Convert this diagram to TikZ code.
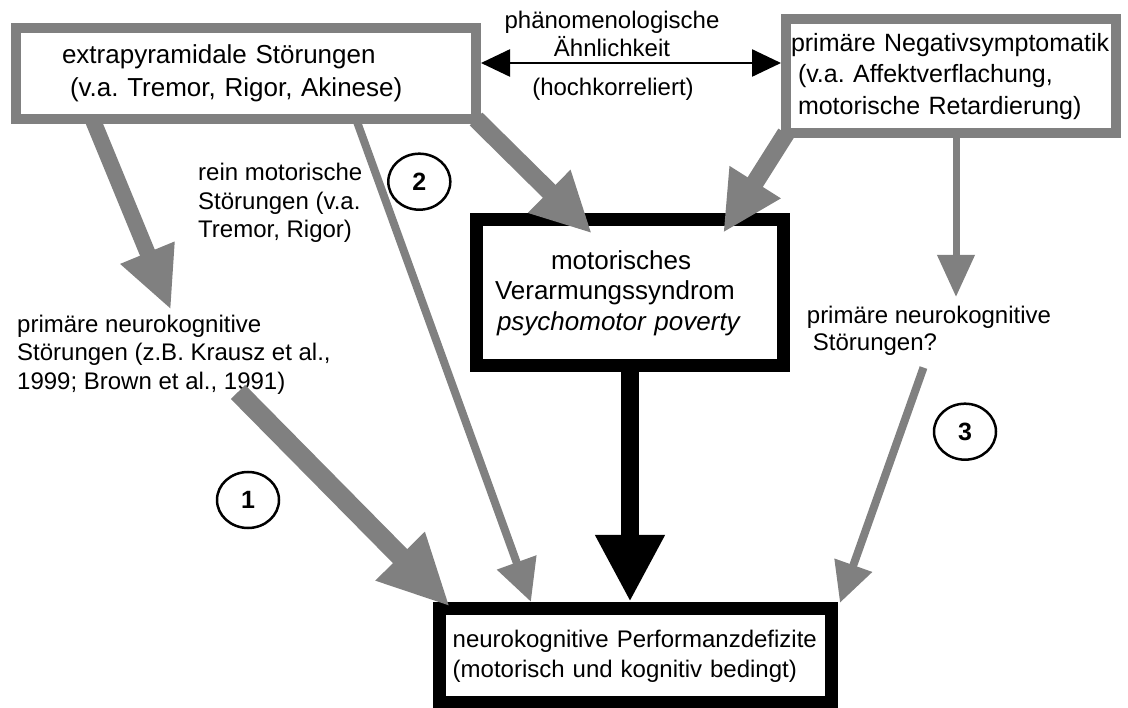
\documentclass[tikz,border=0pt]{standalone}
\usepackage{fontspec}
\setmainfont{Liberation Sans}
\usetikzlibrary{arrows.meta,shapes.geometric,calc}
\definecolor{boxgray}{RGB}{128,128,128}
\frenchspacing
\tikzset{
  graybox/.style={draw=boxgray, line width=10pt, fill=white, inner sep=0pt, align=left},
  blackbox/.style={draw=black, line width=13pt, fill=white, inner sep=0pt, align=left},
  lbl/.style={inner sep=0pt, align=left, font=\fontsize{24}{28.7}\selectfont},
  numcirc/.style={draw, ellipse, line width=2.5pt, inner sep=0pt, minimum width=62pt, minimum height=56pt, font=\fontsize{25}{25}\selectfont\bfseries},
  fatarrow/.style={draw=boxgray, line width=18pt, -{Triangle[length=60pt,width=56pt]}},
  thinarrow/.style={draw=boxgray, line width=8pt, -{Triangle[length=42pt,width=40pt]}},
}
\begin{document}
\begin{tikzpicture}[x=1pt,y=-1pt]
        \useasboundingbox (0,0) rectangle (1128,708);

        % Boxes
        \node[graybox, minimum width=460pt, minimum height=91pt, text width=368pt, font=\fontsize{26}{32.7}\selectfont] (extra) at (246,73.5) {extrapyramidale Störungen\\\hspace*{8pt}(v.a. Tremor, Rigor, Akinese)};
        \node[graybox, minimum width=330pt, minimum height=114pt, text width=320pt, font=\fontsize{25}{31.5}\selectfont] (neg) at (951,76.4) {primäre Negativsymptomatik\\\hspace*{7pt}(v.a. Affektverflachung,\\\hspace*{7pt}motorische Retardierung)};
        \node[blackbox, minimum width=306.7pt, minimum height=146.3pt, text width=270pt, font=\fontsize{26}{30.5}\selectfont] (pp) at (630,292.8) {\hspace*{56pt}motorisches\\Verarmungssyndrom\\\hspace*{2pt}\textit{psychomotor poverty}};
        \node[blackbox, line width=13.5pt, minimum width=392pt, minimum height=94.3pt, text width=366pt, font=\fontsize{24}{30}\selectfont] (perf) at (635.7,655.8) {neurokognitive Performanzdefizite\\(motorisch und kognitiv bedingt)};

        % Labels
        \node[lbl, anchor=north, align=center] (simil) at (612,10.5) {phänomenologische\\Ähnlichkeit};
        \node[lbl, anchor=base] (korr) at (613,96) {(hochkorreliert)};
        \node[lbl, anchor=north west] (rein) at (198,163) {rein motorische\\Störungen (v.a.\\Tremor, Rigor)};
        \node[lbl, anchor=north west] (pnk) at (17,314.5) {primäre neurokognitive\\Störungen (z.B. Krausz et al.,\\1999; Brown et al., 1991)};
        \node[lbl, anchor=north west, font=\fontsize{24}{27}\selectfont] (pnkq) at (806.7,305.8) {primäre neurokognitive\\\hspace*{6pt}Störungen?};

        % Numbered paths
        \node[numcirc] (n1) at (248,500) {1};
        \node[numcirc] (n2) at (419.3,181.7) {2};
        \node[numcirc] (n3) at (965,431.7) {3};

        % Similarity arrow
        \coordinate (simL) at ($(extra.east)+(0,-10.5)$);
        \draw[line width=2.5pt, {Triangle[length=29pt,width=27pt]}-{Triangle[length=29pt,width=27pt]}] (simL) -- (simL -| neg.west);

        % Gray arrows
        \draw[fatarrow, line width=16pt, -{Triangle[length=62pt,width=54pt]}] ($(extra.south west)+(81.4,-5)$) -- ($(pnk.north west)+(154,-4.5)$);
        \draw[thinarrow] ($(extra.south west)+(345,-5)$) -- ($(perf.north west)+(98,0)$);
        \draw[fatarrow] ($(extra.south east)+(-5,-5)$) -- ($(pp.north west)+(121.7,20.3)$);
        \draw[fatarrow] ($(neg.south west)+(5,-5)$) -- ($(pp.north east)+(-66.7,19.7)$);
        \draw[thinarrow, line width=7pt, -{Triangle[length=42pt,width=36pt]}] ($(neg.south west)+(175,-5)$) -- ($(pnkq.north west)+(149.3,-8.8)$);
        \draw[fatarrow, line width=20pt, -{Triangle[length=71pt,width=64pt]}] ($(pnk.north west)+(221,77.5)$) -- ($(perf.north west)+(17,4.75)$);
        \draw[thinarrow, -{Triangle[length=40pt,width=38pt]}] ($(pnkq.south west)+(116.8,12)$) -- ($(perf.north east)+(1.5,1)$);

        % Black arrow
        \draw[line width=18pt, -{Triangle[length=67pt,width=65pt]}] (pp.south) -- (pp.south |- perf.north);
\end{tikzpicture}
\end{document}
